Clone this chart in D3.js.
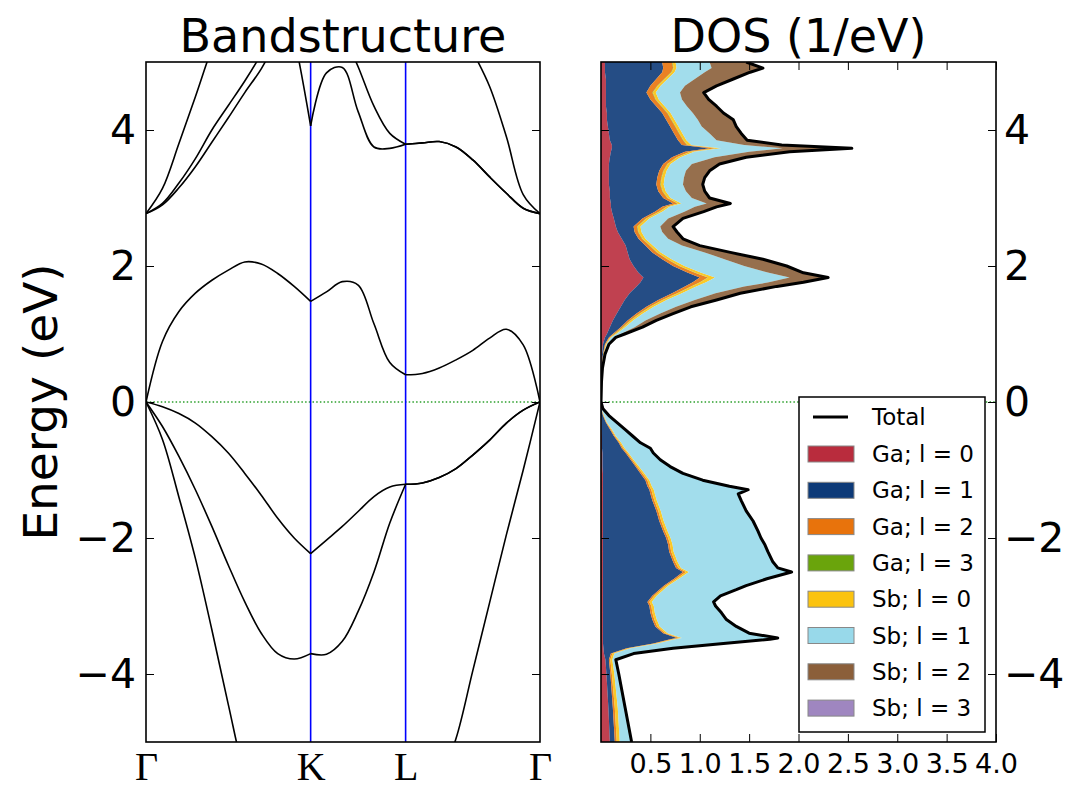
<!DOCTYPE html>
<html><head><meta charset="utf-8">
<script src="https://cdn.jsdelivr.net/npm/d3@7"></script>
<style>body{margin:0;background:#fff}svg{display:block}</style>
</head><body>
<svg id="chart" width="1073" height="791"></svg>
<script>
// ---------------- DATA ----------------
// k-path (high-symmetry points) and band energies sampled along it
const kTicks = [0, 1.061, 1.673, 2.539];
const kLabels = ["Γ", "K", "L", "Γ"];
const kPath = [0, 0.1061, 0.2122, 0.3183, 0.4244, 0.5305, 0.6366, 0.7427, 0.8488, 0.9549, 1.061,
  1.163, 1.265, 1.367, 1.469, 1.571, 1.673,
  1.7813, 1.8895, 1.9978, 2.106, 2.2143, 2.3225, 2.4308, 2.539];
const bandVC = [0, -0.55, -1.40, -2.30, -3.35, -4.45, -5.5, -6.2, -6.6, -6.8, -6.9,
  -6.9, -6.8, -6.7, -6.6, -6.5, -6.45,
  -6.2, -5.6, -4.95, -3.95, -2.95, -1.95, -1.0, 0];
const bandVB = [0, -0.36, -0.80, -1.29, -1.83, -2.40, -2.94, -3.40, -3.70, -3.78, -3.70,
  -3.71, -3.52, -3.08, -2.50, -1.78, -1.21,
  -1.19, -1.11, -0.98, -0.78, -0.56, -0.31, -0.12, 0];
const bandVA = [0, -0.07, -0.17, -0.31, -0.51, -0.75, -1.05, -1.37, -1.71, -2.00, -2.23,
  -2.03, -1.83, -1.61, -1.39, -1.25, -1.21,
  -1.19, -1.11, -0.98, -0.78, -0.56, -0.31, -0.12, 0];
const bandCD = [0, 0.89, 1.33, 1.60, 1.79, 1.94, 2.06, 2.03, 1.89, 1.70, 1.48,
  1.62, 1.77, 1.72, 1.15, 0.58, 0.40,
  0.42, 0.50, 0.62, 0.76, 0.94, 1.07, 0.84, 0];
const bandCE = [2.77, 3.14, 3.80, 4.49, 5.2, 5.8, 6.2, 6.4, 6.3, 5.36, 4.06,
  4.84, 4.92, 4.27, 3.75, 3.73, 3.79,
  3.81, 3.83, 3.75, 3.56, 3.31, 3.07, 2.85, 2.77];
const bandCF = [2.77, 2.92, 3.22, 3.58, 4.00, 4.36, 4.72, 5.12, 5.6, 6.0, 6.2,
  6.1, 5.45, 4.93, 4.35, 3.95, 3.79,
  3.81, 3.83, 3.75, 3.56, 3.31, 3.07, 2.85, 2.77];
const bandCG = [2.77, 2.90, 3.15, 3.46, 3.82, 4.18, 4.55, 4.90, 5.35, 5.8, 6.2,
  6.6, 6.9, 7.0, 7.0, 6.9, 6.7,
  6.5, 6.1, 5.6, 5.15, 4.64, 3.90, 3.05, 2.77];
const energyTicks = [-4, -2, 0, 2, 4];

// projected DOS (1/eV) on an energy grid
const energy = [
  -5.0, -4.5, -4.0, -3.79, -3.70, -3.62, -3.55, -3.49, -3.47, -3.40,
  -3.30, -3.20, -3.10, -3.00, -2.94, -2.85, -2.76, -2.70, -2.60, -2.50,
  -2.44, -2.35, -2.20, -2.10, -2.00, -1.90, -1.75, -1.60, -1.45, -1.35,
  -1.29, -1.24, -1.15, -1.05, -0.95, -0.85, -0.75, -0.68, -0.60, -0.50,
  -0.40, -0.30, -0.20, -0.10, 0.00,
  0.30, 0.50, 0.70, 0.85, 0.95,
  1.00, 1.10, 1.20, 1.30, 1.40, 1.50, 1.60, 1.70, 1.76, 1.83,
  1.90, 2.00, 2.10, 2.20, 2.30, 2.40, 2.50, 2.58, 2.70, 2.80,
  2.87, 2.92, 3.00, 3.10, 3.20, 3.30, 3.40, 3.50, 3.60, 3.68,
  3.73, 3.78, 3.85, 3.95, 4.05, 4.15, 4.25, 4.35, 4.45, 4.55,
  4.65, 4.75, 4.85, 4.91, 5.00];
const gaS = [
  .09, .075, .055, .045, .03, .025, .02, .02, .02, .02,
  .02, .02, .02, .02, .02, .02, .02, .02, .02, .02,
  .02, .02, .02, .02, .02, .02, .02, .02, .02, .02,
  .02, .02, .02, .02, .015, .015, .015, .01, .01, .01,
  .005, .005, 0, 0, 0,
  0, .003, .01, .02, .04,
  .06, .09, .12, .16, .20, .24, .29, .36, .40, .43,
  .38, .33, .29, .27, .25, .21, .17, .15, .13, .11,
  .10, .10, .09, .09, .08, .08, .08, .08, .09, .10,
  .11, .11, .09, .08, .07, .06, .06, .05, .05, .05,
  .05, .05, .04, .04, .04];
const gaP = [
  .05, .045, .04, .035, .07, .235, .51, .68, .75, .61,
  .53, .50, .48, .47, .45, .50, .57, .62, .72, .81,
  .74, .71, .67, .66, .64, .61, .57, .54, .50, .48,
  .47, .45, .43, .38, .335, .285, .235, .20, .17, .12,
  .085, .045, .02, .005, 0,
  .002, .003, .01, .02, .04,
  .06, .11, .15, .20, .26, .34, .43, .49, .53, .57,
  .50, .40, .33, .25, .20, .17, .17, .18, .29, .44,
  .52, .63, .54, .49, .48, .49, .51, .55, .63, .75,
  .99, .71, .69, .66, .63, .60, .56, .51, .45, .41,
  .45, .51, .58, .59, .58];
const gaD = [
  .02, .02, .015, .015, .015, .02, .02, .025, .025, .02,
  .02, .02, .02, .02, .02, .02, .02, .02, .025, .03,
  .025, .02, .02, .02, .02, .02, .02, .02, .02, .02,
  .02, .02, .02, .02, .015, .015, .015, .015, .01, .01,
  .01, .005, .005, 0, 0,
  0, .002, .004, .008, .01,
  .015, .02, .025, .03, .035, .04, .05, .06, .07, .08,
  .07, .06, .05, .045, .04, .035, .035, .035, .035, .04,
  .04, .045, .04, .04, .04, .04, .04, .04, .045, .05,
  .06, .05, .05, .05, .05, .05, .05, .05, .05, .06,
  .07, .08, .09, .10, .10];
const gaF = [
  0, 0, 0, 0, 0, 0, 0, 0, 0, 0,
  0, 0, 0, 0, 0, 0, 0, 0, 0, 0,
  0, 0, 0, 0, 0, 0, 0, 0, 0, 0,
  0, 0, 0, 0, 0, 0, 0, 0, 0, 0,
  0, 0, 0, 0, 0,
  0, 0, 0, 0, 0,
  .005, .005, .005, .005, .005, .005, .005, .005, .005, .005,
  .005, .005, .005, .005, .005, .005, .005, .005, .005, .005,
  .005, .005, .005, .005, .005, .005, .005, .005, .005, .005,
  .005, .005, .005, .005, .005, .005, .005, .005, .005, .005,
  .005, .005, .005, .005, .005];
const sbS = [
  .03, .03, .025, .02, .02, .02, .025, .025, .025, .025,
  .025, .025, .025, .025, .025, .025, .025, .025, .025, .03,
  .025, .025, .025, .025, .025, .025, .025, .025, .025, .025,
  .025, .025, .02, .02, .02, .015, .015, .015, .015, .01,
  .01, .005, .005, 0, 0,
  .001, .002, .004, .008, .01,
  .015, .02, .025, .03, .035, .04, .045, .05, .06, .07,
  .06, .05, .04, .035, .03, .03, .03, .03, .03, .03,
  .03, .035, .03, .03, .03, .03, .03, .03, .035, .04,
  .05, .04, .03, .03, .03, .03, .03, .03, .03, .03,
  .03, .03, .03, .03, .03];
const sbP = [
  .11, .065, .035, .03, .19, .42, .655, .95, .96, .815,
  .765, .695, .665, .615, .615, .635, .725, .775, .88, 1.03,
  .97, .955, .945, .925, .905, .905, .895, .855, .845, .835,
  .945, .775, .53, .38, .305, .26, .24, .25, .19, .165,
  .125, .095, .05, .015, 0,
  .001, .002, .007, .014, .03,
  .045, .095, .125, .175, .225, .285, .34, .485, .635, .755,
  .685, .605, .535, .445, .295, .23, .21, .20, .19, .225,
  .255, .255, .215, .205, .195, .195, .195, .215, .345, .555,
  .625, .535, .305, .275, .235, .235, .225, .225, .235, .245,
  .245, .275, .305, .355, .345];
const sbD = [
  .01, .01, .01, .005, .005, .01, .01, .01, .01, .01,
  .01, .01, .01, .01, .01, .01, .01, .01, .01, .01,
  .01, .01, .01, .01, .01, .01, .01, .01, .01, .01,
  .01, .01, .01, .01, .01, .01, .01, .01, .005, .005,
  .005, .005, 0, 0, 0,
  .001, .003, .005, .01, .02,
  .03, .07, .10, .12, .14, .21, .24, .32, .34, .38,
  .34, .42, .38, .25, .17, .14, .14, .12, .14, .18,
  .21, .23, .17, .18, .19, .20, .23, .27, .31, .40,
  .69, .37, .30, .31, .34, .35, .30, .29, .26, .23,
  .31, .38, .45, .51, .36];
const sbF = [
  0, 0, 0, 0, 0, 0, 0, 0, 0, 0,
  0, 0, 0, 0, 0, 0, 0, 0, 0, 0,
  0, 0, 0, 0, 0, 0, 0, 0, 0, 0,
  0, 0, 0, 0, 0, 0, 0, 0, 0, 0,
  0, 0, 0, 0, 0,
  0, 0, 0, 0, 0,
  .01, .01, .01, .01, .01, .01, .01, .01, .01, .01,
  .01, .01, .01, .01, .01, .01, .01, .01, .01, .01,
  .01, .01, .01, .01, .01, .01, .01, .01, .01, .01,
  .01, .01, .01, .01, .01, .01, .01, .01, .01, .01,
  .01, .01, .01, .01, .01];
const dosTicks = [0.5, 1.0, 1.5, 2.0, 2.5, 3.0, 3.5, 4.0];
const dosLabels = ["Ga; l = 0", "Ga; l = 1", "Ga; l = 2", "Ga; l = 3",
                   "Sb; l = 0", "Sb; l = 1", "Sb; l = 2", "Sb; l = 3"];
const dosColors = ["#b92c3d", "#0d3a78", "#e8730c", "#6aa40c",
                   "#fbc30f", "#98d9ea", "#8b5f3a", "#9f86c0"];

// ---------------- CHART ----------------
const svg = d3.select("#chart");
const FONT = "'DejaVu Sans', sans-serif";
const PT = 62, PB = 742;
const bandL = 146, bandR = 540, dosL = 601, dosR = 996;

const yE = d3.scaleLinear().domain([-5, 5]).range([PB, PT]);
const xK = d3.scaleLinear().domain([kTicks[0], kTicks[3]]).range([bandL, bandR]);
const xD = d3.scaleLinear().domain([0, 4]).range([dosL, dosR]);

const defs = svg.append("defs");
defs.append("clipPath").attr("id", "clipBand").append("rect")
  .attr("x", bandL).attr("y", PT).attr("width", bandR - bandL).attr("height", PB - PT);
defs.append("clipPath").attr("id", "clipDos").append("rect")
  .attr("x", dosL).attr("y", PT).attr("width", dosR - dosL).attr("height", PB - PT);

// ---- band structure panel ----
const gB = svg.append("g").attr("clip-path", "url(#clipBand)");
gB.append("line").attr("x1", bandL).attr("x2", bandR).attr("y1", yE(0)).attr("y2", yE(0))
  .attr("stroke", "#2ca02c").attr("stroke-width", 1.5).attr("stroke-dasharray", "1.5,2.2");
[kTicks[1], kTicks[2]].forEach(k => {
  gB.append("line").attr("x1", xK(k)).attr("x2", xK(k)).attr("y1", PT).attr("y2", PB)
    .attr("stroke", "#0000ff").attr("stroke-width", 1.6);
});
const segs = [[0, 10], [10, 16], [16, 24]];
const bandLine = d3.line().x(d => xK(d[0])).y(d => yE(d[1])).curve(d3.curveCatmullRom.alpha(0.5));
[bandVC, bandVB, bandVA, bandCD, bandCE, bandCF, bandCG].forEach(b => {
  segs.forEach(([a, z]) => {
    const pts = d3.range(a, z + 1).map(i => [kPath[i], b[i]]);
    gB.append("path").attr("d", bandLine(pts)).attr("fill", "none")
      .attr("stroke", "#000").attr("stroke-width", 1.6);
  });
});
svg.append("rect").attr("x", bandL).attr("y", PT).attr("width", bandR - bandL).attr("height", PB - PT)
  .attr("fill", "none").attr("stroke", "#000").attr("stroke-width", 1.6);

// y axis (left, labels) and right ticks
const axL = svg.append("g").attr("transform", `translate(${bandL},0)`)
  .call(d3.axisLeft(yE).tickValues(energyTicks).tickSizeInner(-8).tickSizeOuter(0).tickPadding(10).tickFormat(d3.format("d")));
axL.select(".domain").remove();
axL.selectAll("text").style("font-family", FONT).style("font-size", "41px").attr("fill", "#000");
const axR1 = svg.append("g").attr("transform", `translate(${bandR},0)`)
  .call(d3.axisRight(yE).tickValues(energyTicks).tickSizeInner(-8).tickSizeOuter(0).tickFormat(""));
axR1.select(".domain").remove();
// k labels
const axK = svg.append("g").attr("transform", `translate(0,${PB})`)
  .call(d3.axisBottom(xK).tickValues(kTicks).tickSize(0).tickPadding(10).tickFormat((d, i) => kLabels[i]));
axK.select(".domain").remove();
axK.selectAll("text").style("font-family", "'Liberation Serif', 'DejaVu Serif', serif").style("font-size", "40px").attr("fill", "#000");

svg.append("text").attr("transform", `translate(57,${yE(0)}) rotate(-90)`)
  .attr("text-anchor", "middle").style("font-family", FONT).style("font-size", "47px")
  .text("Energy (eV)");
svg.append("text").attr("x", (bandL + bandR) / 2).attr("y", 52).attr("text-anchor", "middle")
  .style("font-family", FONT).style("font-size", "46px").text("Bandstructure");

// ---- DOS panel ----
const keys = ["gaS", "gaP", "gaD", "gaF", "sbS", "sbP", "sbD", "sbF"];
const seriesData = { gaS, gaP, gaD, gaF, sbS, sbP, sbD, sbF };
const rows = energy.map((E, i) => {
  const r = { E };
  keys.forEach(k => r[k] = seriesData[k][i]);
  return r;
});
const stacked = d3.stack().keys(keys)(rows);
const gD = svg.append("g").attr("clip-path", "url(#clipDos)");
const area = d3.area().y(d => yE(d.data.E)).x0(d => xD(d[0])).x1(d => xD(d[1]));
stacked.forEach((s, i) => {
  gD.append("path").attr("d", area(s)).attr("fill", dosColors[i]).attr("fill-opacity", 0.9);
});
const totalLine = d3.line().y(d => yE(d.E)).x(d => xD(d3.sum(keys, k => d[k])));
gD.append("line").attr("x1", dosL).attr("x2", dosR).attr("y1", yE(0)).attr("y2", yE(0))
  .attr("stroke", "#2ca02c").attr("stroke-width", 1.5).attr("stroke-dasharray", "1.5,2.2");
gD.append("path").attr("d", totalLine(rows)).attr("fill", "none").attr("stroke", "#000")
  .attr("stroke-width", 3).attr("stroke-linejoin", "round");
svg.append("rect").attr("x", dosL).attr("y", PT).attr("width", dosR - dosL).attr("height", PB - PT)
  .attr("fill", "none").attr("stroke", "#000").attr("stroke-width", 1.6);

const axDB = svg.append("g").attr("transform", `translate(0,${PB})`)
  .call(d3.axisBottom(xD).tickValues(dosTicks).tickSizeInner(-8).tickSizeOuter(0).tickPadding(12).tickFormat(d3.format(".1f")));
axDB.select(".domain").remove();
axDB.selectAll("text").style("font-family", FONT).style("font-size", "27px").attr("fill", "#000");
const axDT = svg.append("g").attr("transform", `translate(0,${PT})`)
  .call(d3.axisTop(xD).tickValues(dosTicks).tickSizeInner(-8).tickSizeOuter(0).tickFormat(""));
axDT.select(".domain").remove();
const axDL = svg.append("g").attr("transform", `translate(${dosL},0)`)
  .call(d3.axisLeft(yE).tickValues(energyTicks).tickSizeInner(-8).tickSizeOuter(0).tickFormat(""));
axDL.select(".domain").remove();
const axDR = svg.append("g").attr("transform", `translate(${dosR},0)`)
  .call(d3.axisRight(yE).tickValues(energyTicks).tickSizeInner(-8).tickSizeOuter(0).tickPadding(8).tickFormat(d3.format("d")));
axDR.select(".domain").remove();
axDR.selectAll("text").style("font-family", FONT).style("font-size", "41px").attr("fill", "#000");

svg.append("text").attr("x", (dosL + dosR) / 2).attr("y", 52).attr("text-anchor", "middle")
  .style("font-family", FONT).style("font-size", "46px").text("DOS (1/eV)");

// legend
const lg = svg.append("g").attr("transform", "translate(799,397)");
lg.append("rect").attr("width", 186).attr("height", 335).attr("fill", "#fff")
  .attr("stroke", "#000").attr("stroke-width", 1.5);
lg.append("line").attr("x1", 14).attr("x2", 49).attr("y1", 20).attr("y2", 20)
  .attr("stroke", "#000").attr("stroke-width", 3);
lg.append("text").attr("x", 73).attr("y", 20).attr("dy", "0.35em")
  .style("font-family", FONT).style("font-size", "23px").text("Total");
dosLabels.forEach((lab, i) => {
  const yy = 57 + i * 36.3;
  lg.append("rect").attr("x", 9).attr("y", yy - 8).attr("width", 46).attr("height", 16)
    .attr("fill", dosColors[i]).attr("stroke", "#888").attr("stroke-width", 1);
  lg.append("text").attr("x", 73).attr("y", yy).attr("dy", "0.35em")
    .style("font-family", FONT).style("font-size", "23px").text(lab);
});
</script>
</body></html>
